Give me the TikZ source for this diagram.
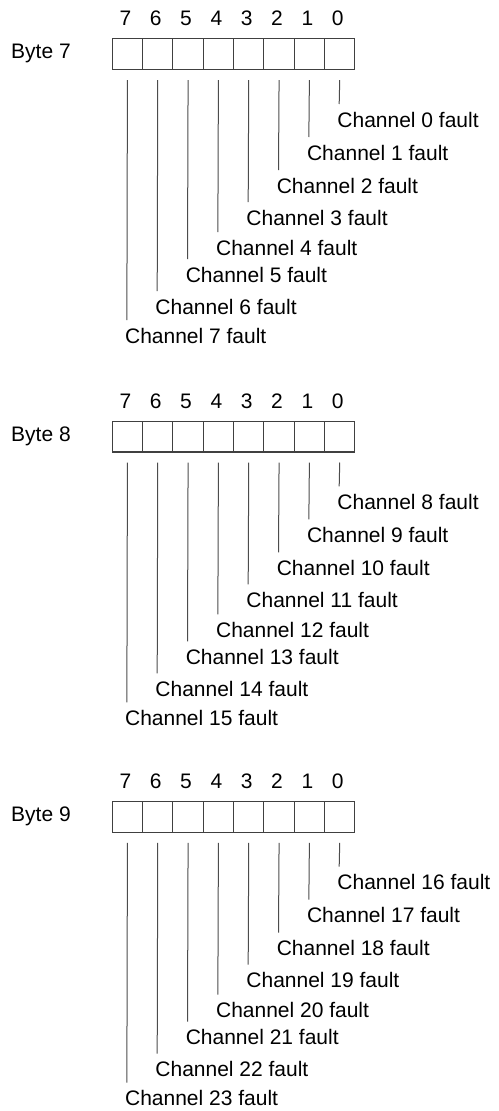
\documentclass[tikz,border=0pt]{standalone}
\usepackage{fontspec}
\setmainfont{Liberation Sans}

\begin{document}
\begin{tikzpicture}[x=1pt, y=-1pt,
        cell/.style={draw=black!75, line width=1.1pt, minimum width=30.33pt,
            minimum height=30.7pt, inner sep=0pt, anchor=north west},
        lead/.style={draw=black!70, line width=1pt},
        txt/.style={inner sep=0pt, anchor=base west, font=\fontsize{21}{25}\selectfont},
        bitno/.style={inner sep=0pt, anchor=base, font=\fontsize{21}{25}\selectfont}]
    \useasboundingbox (0,0) rectangle (498,1111);

    \foreach \b/\oy in {7/0, 8/382.4, 9/762.7} {
        \pgfmathtruncatemacro{\first}{(\b-7)*8}
        \node[txt] (byte\b) at (11,58.7+\oy) {Byte \b};

        \foreach \i/\ey in {0/104, 1/137, 2/170, 3/202, 4/232, 5/259, 6/291, 7/320} {
            \pgfmathsetmacro{\cx}{111.7+(7-\i)*30.33}
            \pgfmathtruncatemacro{\ch}{\first+\i}
            \node[cell] (c\b\i) at (\cx,38.3+\oy) {};
            \node[bitno] (n\b\i) at (\cx+13.7,25.7+\oy) {\i};

            \coordinate (e\b\i) at (\cx+15.17,\ey+\oy);
            \node[txt] (ch\b\i) at (\cx+13.2,\ey+23+\oy) {Channel \ch\ fault};
            \draw[lead] ([yshift=-10pt]c\b\i.south) -- (e\b\i);
        }
    }
\end{tikzpicture}
\end{document}
